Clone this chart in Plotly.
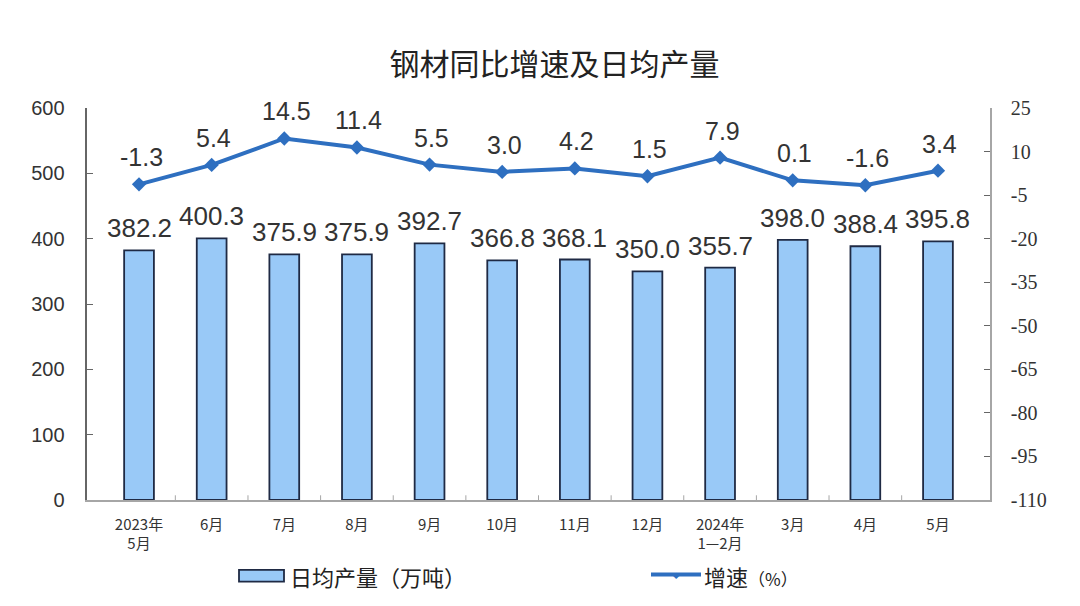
import plotly.graph_objects as go

months = ["2023年<br>5月", "6月", "7月", "8月", "9月", "10月", "11月", "12月",
          "2024年<br>1—2月", "3月", "4月", "5月"]
daily_output = [382.2, 400.3, 375.9, 375.9, 392.7, 366.8, 368.1, 350.0, 355.7, 398.0, 388.4, 395.8]
growth = [-1.3, 5.4, 14.5, 11.4, 5.5, 3.0, 4.2, 1.5, 7.9, 0.1, -1.6, 3.4]

left_ticks = list(range(0, 601, 100))
right_ticks = list(range(-110, 26, 15))

bar_fill = "#99c9f7"
bar_edge = "#1f2a44"
line_col = "#2e6fc0"
axis_col = "#a6a6a6"
cjk = "Noto Sans CJK SC"
num = "Liberation Sans"
pad = "\u00a0" * 3

fig = go.Figure()
fig.add_trace(go.Bar(
    x=months, y=daily_output, name="日均产量（万吨）",
    marker=dict(color=bar_fill, line=dict(color=bar_edge, width=1.8)),
    width=0.41,
))
fig.add_trace(go.Scatter(
    x=months, y=growth, name="增速（%）", yaxis="y2",
    mode="lines+markers",
    line=dict(color=line_col, width=4),
    marker=dict(symbol="diamond", size=11, color=line_col),
    cliponaxis=False,
))

# value labels, lifted a little further than plotly's own text placement
for m, v in zip(months, daily_output):
    fig.add_annotation(x=m, y=v, xref="x", yref="y", text=f"{v:.1f}",
                       showarrow=False, yanchor="middle", yshift=22,
                       font=dict(family=num, size=26, color="#333333"))
for m, v in zip(months, growth):
    fig.add_annotation(x=m, y=v, xref="x", yref="y2", text=f"{v:.1f}",
                       showarrow=False, yanchor="middle", yshift=27, xshift=2,
                       font=dict(family=num, size=25, color="#333333"))

fig.update_layout(
    width=1080, height=606,
    margin=dict(l=79, r=98, t=100, b=114),
    paper_bgcolor="white", plot_bgcolor="white",
    showlegend=False,
    title=dict(text="钢材同比增速及日均产量", x=0.506, xanchor="center",
               y=0.906, yanchor="middle",
               font=dict(family=cjk, size=30, color="#222222")),
    xaxis=dict(
        showline=True, linecolor=axis_col, linewidth=1.5,
        ticks="", showgrid=False, ticklabelstandoff=10,
        tickfont=dict(family=cjk, size=15, color="#333333"),
    ),
    yaxis=dict(
        range=[0, 600], tickvals=left_ticks,
        ticktext=[f"{v}{pad}" for v in left_ticks],
        showline=True, linecolor="#666666", linewidth=1.5,
        ticks="inside", ticklen=6, tickcolor="#666666",
        showgrid=False, zeroline=False,
        tickfont=dict(family=num, size=20, color="#333333"),
    ),
    yaxis2=dict(
        range=[-110, 25], tickvals=right_ticks,
        ticktext=[f"{pad}{v}" for v in right_ticks],
        overlaying="y", side="right",
        showline=True, linecolor=axis_col, linewidth=1.5,
        ticks="inside", ticklen=6, tickcolor="#666666",
        showgrid=False, zeroline=False,
        tickfont=dict(family="Liberation Serif", size=20, color="#333333"),
    ),
)

# small boundary ticks between categories on the x axis
for i in range(len(months) - 1):
    fig.add_shape(type="line", xref="x", yref="paper",
                  x0=i + 0.5, x1=i + 0.5, y0=0, y1=0.012,
                  line=dict(color=axis_col, width=1))

# legend drawn by hand, wide swatches like the original
def px(x):
    return (x - 88) / 903

fig.add_shape(type="rect", xref="paper", yref="paper",
              x0=px(240), x1=px(285), y0=-0.178, y1=-0.208,
              fillcolor=bar_fill, line=dict(color=bar_edge, width=1.8))
fig.add_annotation(xref="paper", yref="paper", x=px(289), y=-0.193,
                   text="日均产量（万吨）", showarrow=False,
                   xanchor="left", yanchor="middle",
                   font=dict(family=cjk, size=22, color="#222222"))
fig.add_shape(type="line", xref="paper", yref="paper",
              x0=px(652), x1=px(702), y0=-0.19, y1=-0.19,
              line=dict(color=line_col, width=4))
fig.add_annotation(xref="paper", yref="paper", x=px(677), y=-0.19,
                   text="◆", showarrow=False, yanchor="middle",
                   font=dict(size=8, color=line_col))
fig.add_annotation(xref="paper", yref="paper", x=px(703), y=-0.193,
                   text="增速<span style='font-size:17px'>（%）</span>",
                   showarrow=False, xanchor="left", yanchor="middle",
                   font=dict(family=cjk, size=22, color="#222222"))

fig.write_html("out.html")
